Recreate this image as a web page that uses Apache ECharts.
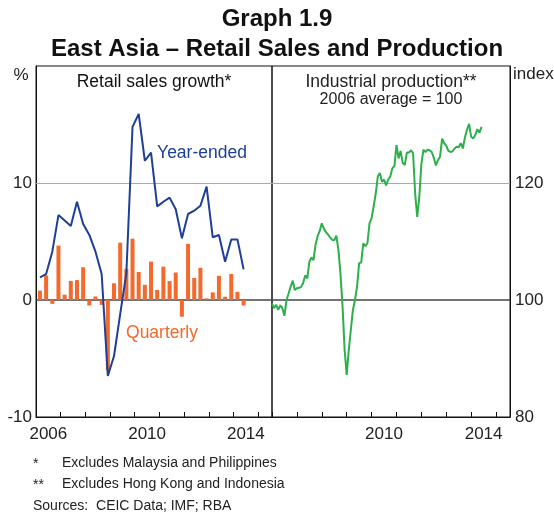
<!DOCTYPE html>
<html>
<head>
<meta charset="utf-8">
<script src="https://cdn.jsdelivr.net/npm/echarts@6/dist/echarts.min.js"></script>
<style>
html,body{margin:0;padding:0;background:#fff;}
#chart{width:554px;height:515px;}
</style>
</head>
<body>
<div id="chart"></div>
<script>
// Quarterly retail sales growth (%), 2006 Q1 .. 2014 Q2
const quarterStartYear = 2006;
const quarterlyGrowth = [0.8, 2.1, -0.33, 4.65, 0.45, 1.63, 1.7, 2.8, -0.47, 0.3, -0.42, -6.0,
  1.43, 4.9, 2.66, 5.24, 2.39, 1.3, 3.28, 0.86, 2.85, 1.62, 2.35, -1.43,
  4.8, 1.88, 2.75, 0.14, 0.65, 2.07, 0.28, 2.23, 0.7, -0.47];
const yearEndedGrowth = [1.94, 2.22, 4.13, 7.26, 6.8, 6.32, 8.4, 6.5, 5.56, 4.13, 2.22, -6.5,
  -4.79, -1.2, 2.3, 14.8, 15.9, 11.9, 12.6, 8.0, 8.4, 8.75, 7.75, 5.27,
  7.35, 7.63, 8.06, 9.69, 5.36, 5.56, 3.27, 5.18, 5.18, 2.62];
// Monthly industrial production index (2006 average = 100), Jan 2006 .. Jun 2014
const monthStartYear = 2006;
const industrialProduction = [
  99.4, 98.6, 99.2, 98.3, 99.1, 98.6, 97.3, 100.0, 101.1, 102.3, 103.3, 101.7,
  102.0, 102.1, 102.2, 102.9, 104.2, 103.7, 106.5, 107.3, 106.8, 109.5, 110.9, 111.8,
  113.1, 112.2, 111.6, 111.2, 110.7, 110.3, 110.2, 111.0, 108.6, 104.5, 99.0, 91.5,
  87.2, 91.4, 94.9, 98.3, 100.0, 102.3, 106.3, 106.4, 109.7, 109.2, 109.7, 113.1,
  114.0, 116.0, 118.2, 121.1, 121.7, 120.2, 120.6, 119.6, 120.6, 121.1, 122.5, 122.9,
  126.5, 124.2, 125.5, 123.4, 123.1, 125.2, 125.2, 125.6, 125.1, 118.2, 114.2, 117.6,
  123.2, 125.7, 125.3, 125.7, 125.6, 125.3, 124.3, 123.0, 123.9, 124.5, 127.6, 126.8,
  126.4, 125.5, 125.3, 125.4, 125.9, 126.2, 126.1, 126.8, 125.9, 127.8, 129.1, 130.1,
  127.9, 127.6, 128.2, 129.2, 128.6, 129.6];
const leftYearLabels = [2006, 2010, 2014];
const rightYearLabels = [2010, 2014];

const FONT = 'Liberation Sans, Arial, sans-serif';
const BLUE = '#1e3f96', ORANGE = '#f4692c', GREEN = '#2db04b';
const X_MIN = 2006, X_MAX = 2015.56;

const qx = i => quarterStartYear + 0.25 * i + 0.16;
const mx = i => monthStartYear + i / 12;
const barData = quarterlyGrowth.map((v, i) => [qx(i), v]);
const yeData = yearEndedGrowth.map((v, i) => [qx(i), v]);
const ipData = industrialProduction.map((v, i) => [mx(i), v]);

function tickAxis(g) {
  return {
    type: 'value', gridIndex: g, position: 'bottom', min: X_MIN, max: X_MAX, interval: 1,
    axisLine: {show: true, onZero: false, lineStyle: {color: '#111', width: 1}},
    axisTick: {show: true, inside: true, length: 5, lineStyle: {color: '#111'}},
    axisLabel: {show: false}, splitLine: {show: false}
  };
}
function labelAxis(g, labels) {
  return {
    type: 'value', gridIndex: g, position: 'bottom', min: X_MIN, max: X_MAX, interval: 0.5,
    axisLine: {show: false, onZero: false}, axisTick: {show: false}, splitLine: {show: false},
    axisLabel: {
      show: true, margin: 9, color: '#222', fontSize: 17, fontFamily: FONT,
      showMinLabel: true, showMaxLabel: false,
      formatter: v => { const y = v - 0.5; return labels.indexOf(y) >= 0 ? String(y) : ''; }
    }
  };
}
const ml = (val, color, width) => ({ yAxis: val, lineStyle: {color: color, width: width, type: 'solid'} });

const chart = echarts.init(document.getElementById('chart'));
chart.setOption({
  animation: false,
  backgroundColor: '#fff',
  grid: [
    {left: 36, right: 282, top: 66, bottom: 98, show: true, borderColor: '#111', borderWidth: 1, backgroundColor: 'transparent'},
    {left: 272, right: 44, top: 66, bottom: 98, show: true, borderColor: '#111', borderWidth: 1, backgroundColor: 'transparent'}
  ],
  xAxis: [tickAxis(0), labelAxis(0, leftYearLabels), tickAxis(1), labelAxis(1, rightYearLabels)],
  yAxis: [
    {type: 'value', gridIndex: 0, min: -10, max: 20, interval: 10, position: 'left',
     axisLine: {show: true, lineStyle: {color: '#111'}}, axisTick: {show: false}, splitLine: {show: false},
     axisLabel: {margin: 4, color: '#222', fontSize: 17, fontFamily: FONT, formatter: v => v === 20 ? '' : String(v)}},
    {type: 'value', gridIndex: 1, min: 80, max: 140, interval: 20, position: 'right',
     axisLine: {show: true, lineStyle: {color: '#111'}}, axisTick: {show: false}, splitLine: {show: false},
     axisLabel: {margin: 5, color: '#222', fontSize: 17, fontFamily: FONT, formatter: v => v === 140 ? '' : String(v)}}
  ],
  series: [
    {type: 'bar', xAxisIndex: 0, yAxisIndex: 0, data: barData, barWidth: 4,
     itemStyle: {color: ORANGE}, z: 3,
     markLine: {silent: true, symbol: 'none', label: {show: false}, z: 1,
       data: [ml(10, '#aaaaaa', 1), ml(0, '#444444', 1.5)]}},
    {type: 'line', xAxisIndex: 0, yAxisIndex: 0, data: yeData, symbol: 'none',
     lineStyle: {color: BLUE, width: 2}, z: 4},
    {type: 'line', xAxisIndex: 2, yAxisIndex: 1, data: ipData, symbol: 'none',
     lineStyle: {color: GREEN, width: 2}, z: 4,
     markLine: {silent: true, symbol: 'none', label: {show: false}, z: 1,
       data: [ml(120, '#aaaaaa', 1), ml(100, '#444444', 1.5)]}}
  ],
  graphic: [
    {type: 'text', left: 'center', top: 7, style: {text: 'Graph 1.9', font: 'bold 24px ' + FONT, fill: '#111'}},
    {type: 'text', left: 'center', top: 37, style: {text: 'East Asia – Retail Sales and Production', font: 'bold 24px ' + FONT, fill: '#111'}},
    {type: 'text', x: 154, y: 82, style: {text: 'Retail sales growth*', font: '17.5px ' + FONT, fill: '#111', textAlign: 'center', textVerticalAlign: 'middle'}},
    {type: 'text', x: 391, y: 82, style: {text: 'Industrial production**', font: '17.5px ' + FONT, fill: '#222', textAlign: 'center', textVerticalAlign: 'middle'}},
    {type: 'text', x: 391, y: 100, style: {text: '2006 average = 100', font: '16px ' + FONT, fill: '#222', textAlign: 'center', textVerticalAlign: 'middle'}},
    {type: 'text', x: 21, y: 75, style: {text: '%', font: '17px ' + FONT, fill: '#222', textAlign: 'center', textVerticalAlign: 'middle'}},
    {type: 'text', x: 513, y: 74, style: {text: 'index', font: '17px ' + FONT, fill: '#222', textAlign: 'left', textVerticalAlign: 'middle'}},
    {type: 'text', x: 202, y: 153, style: {text: 'Year-ended', font: '17.5px ' + FONT, fill: BLUE, textAlign: 'center', textVerticalAlign: 'middle'}},
    {type: 'text', x: 162, y: 333, style: {text: 'Quarterly', font: '17.5px ' + FONT, fill: ORANGE, textAlign: 'center', textVerticalAlign: 'middle'}},
    {type: 'text', x: 33, y: 464, style: {text: '*', font: '14px ' + FONT, fill: '#222', textAlign: 'left', textVerticalAlign: 'middle'}},
    {type: 'text', x: 62, y: 463, style: {text: 'Excludes Malaysia and Philippines', font: '14px ' + FONT, fill: '#222', textAlign: 'left', textVerticalAlign: 'middle'}},
    {type: 'text', x: 33, y: 485, style: {text: '**', font: '14px ' + FONT, fill: '#222', textAlign: 'left', textVerticalAlign: 'middle'}},
    {type: 'text', x: 62, y: 484, style: {text: 'Excludes Hong Kong and Indonesia', font: '14px ' + FONT, fill: '#222', textAlign: 'left', textVerticalAlign: 'middle'}},
    {type: 'text', x: 33, y: 506, style: {text: 'Sources:  CEIC Data; IMF; RBA', font: '14px ' + FONT, fill: '#222', textAlign: 'left', textVerticalAlign: 'middle'}}
  ]
});
</script>
</body>
</html>
